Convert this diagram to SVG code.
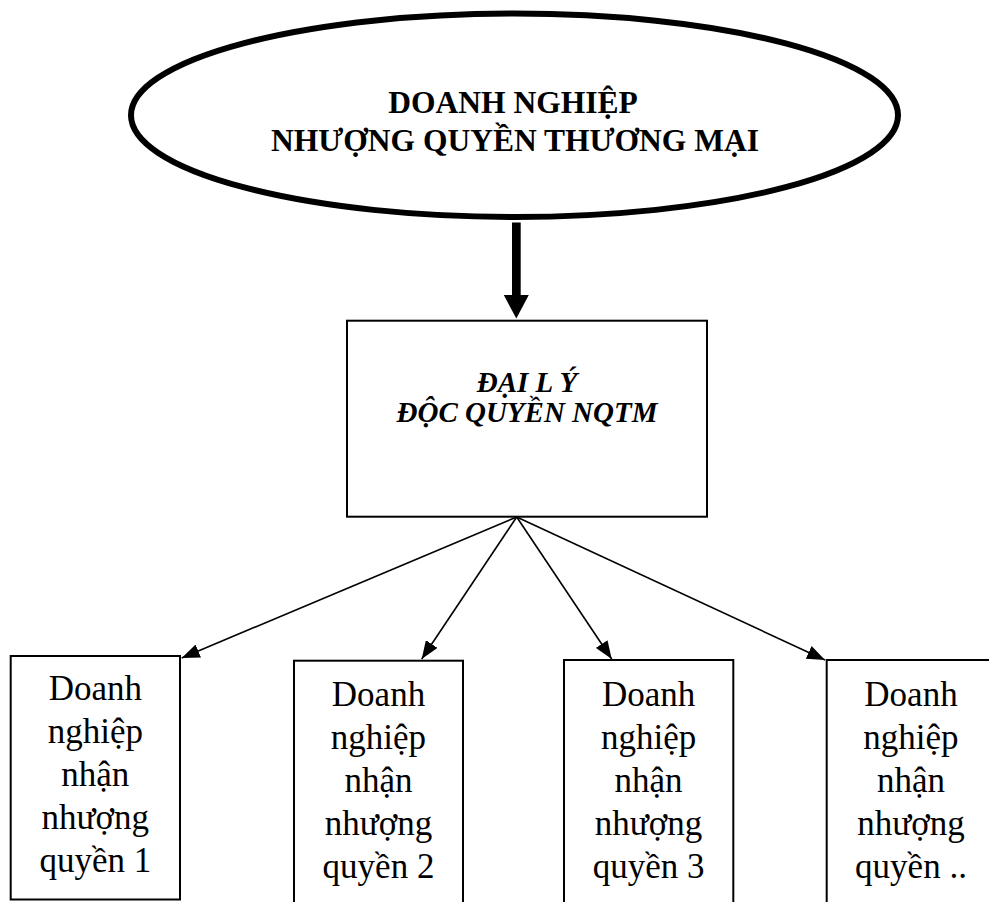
<svg xmlns="http://www.w3.org/2000/svg" width="989" height="902" viewBox="0 0 989 902">
  <style>
    .title { font-family: "Liberation Serif", "Times New Roman", serif; font-weight: bold; font-size: 31.5px; text-anchor: middle; fill: #000; }
    .agent { font-family: "Liberation Serif", "Times New Roman", serif; font-weight: bold; font-style: italic; font-size: 29px; text-anchor: middle; fill: #000; }
    .unit { font-family: "Liberation Serif", "Times New Roman", serif; font-size: 35px; text-anchor: middle; fill: #000; }
    .box { fill: #fff; stroke: #000; stroke-width: 2; }
    .link { stroke: #000; stroke-width: 1.6; fill: none; marker-end: url(#head); }
  </style>
  <defs>
    <marker id="head" markerUnits="userSpaceOnUse" markerWidth="18" markerHeight="14" refX="18" refY="7" orient="auto">
      <path d="M0,0 L18,7 L0,14 z" fill="#000"/>
    </marker>
  </defs>
  <rect width="989" height="902" fill="#fff"/>

  <!-- Franchisor -->
  <g id="franchisor">
    <ellipse cx="514.5" cy="115.3" rx="383.5" ry="101.7" fill="#fff" stroke="#000" stroke-width="6"/>
    <text class="title" x="513" y="113">DOANH NGHIỆP</text>
    <text class="title" x="515" y="151">NHƯỢNG QUYỀN THƯƠNG MẠI</text>
  </g>

  <!-- Exclusive agent -->
  <g id="agent">
    <rect class="box" x="347" y="320.7" width="360" height="196"/>
    <text class="agent" x="527" y="392">ĐẠI L Ý</text>
    <text class="agent" x="527" y="422">ĐỘC QUYỀN NQTM</text>
  </g>

  <!-- Franchisees -->
  <g id="franchisee-1">
    <rect class="box" x="10.7" y="656" width="169.3" height="243.5"/>
    <text class="unit" x="95.3" y="700">Doanh</text>
    <text class="unit" x="95.3" y="743">nghiệp</text>
    <text class="unit" x="95.3" y="786">nhận</text>
    <text class="unit" x="95.3" y="829">nhượng</text>
    <text class="unit" x="95.3" y="872">quyền 1</text>
  </g>
  <g id="franchisee-2">
    <rect class="box" x="294" y="660.7" width="169" height="260"/>
    <text class="unit" x="378.5" y="705.7">Doanh</text>
    <text class="unit" x="378.5" y="748.7">nghiệp</text>
    <text class="unit" x="378.5" y="791.7">nhận</text>
    <text class="unit" x="378.5" y="834.7">nhượng</text>
    <text class="unit" x="378.5" y="877.7">quyền 2</text>
  </g>
  <g id="franchisee-3">
    <rect class="box" x="564" y="660" width="169.3" height="260"/>
    <text class="unit" x="648.6" y="705.7">Doanh</text>
    <text class="unit" x="648.6" y="748.7">nghiệp</text>
    <text class="unit" x="648.6" y="791.7">nhận</text>
    <text class="unit" x="648.6" y="834.7">nhượng</text>
    <text class="unit" x="648.6" y="877.7">quyền 3</text>
  </g>
  <g id="franchisee-4">
    <rect class="box" x="826.7" y="660" width="168.6" height="260"/>
    <text class="unit" x="911" y="705.7">Doanh</text>
    <text class="unit" x="911" y="748.7">nghiệp</text>
    <text class="unit" x="911" y="791.7">nhận</text>
    <text class="unit" x="911" y="834.7">nhượng</text>
    <text class="unit" x="911" y="877.7">quyền ..</text>
  </g>

  <!-- Connectors -->
  <g id="connectors">
    <rect x="512" y="222.5" width="8.7" height="74" fill="#000"/>
    <polygon points="503.8,295 528.8,295 516.3,318.5" fill="#000"/>
    <line class="link" x1="516.7" y1="517" x2="181.7" y2="658"/>
    <line class="link" x1="516.7" y1="517" x2="421.7" y2="659"/>
    <line class="link" x1="516.7" y1="517" x2="611.7" y2="659"/>
    <line class="link" x1="516.7" y1="517" x2="825" y2="660"/>
  </g>
</svg>
